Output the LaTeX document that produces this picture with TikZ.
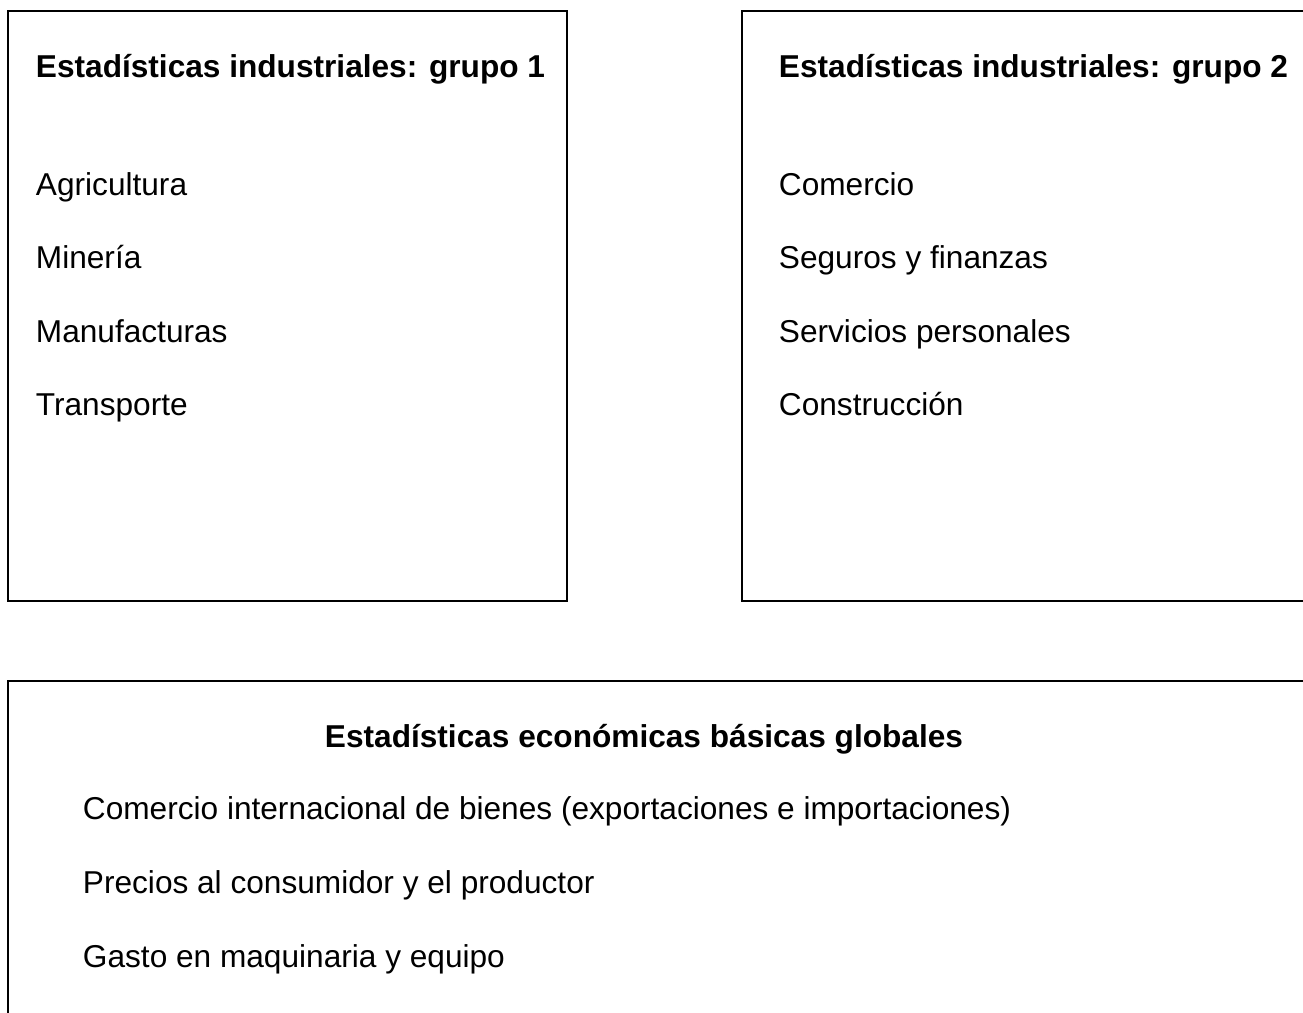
\documentclass[tikz,border=0pt]{standalone}
\usepackage{fontspec}
\setmainfont{Liberation Sans}

\begin{document}
\begin{tikzpicture}[x=0.02cm, y=-0.02cm, line width=1.1pt,
    every node/.style={inner sep=0pt, anchor=base west, font=\fontsize{18}{21}\selectfont},
    titulo/.style={font=\fontsize{18}{21}\selectfont\bfseries}]
    \useasboundingbox (0,0) rectangle (1303,1012);
    \clip (0,0) rectangle (1303,1012);

    \draw (8,11) rectangle (567,601);
    \draw (742,11) rectangle (1320,601);
    \draw (8,681) rectangle (1320,1030);

    \node[titulo] (G1) at (35,77) {Estadísticas industriales: grupo 1};
    \node (A) at (35,195) {Agricultura};
    \node (M) at (35,268) {Minería};
    \node (F) at (35,342) {Manufacturas};
    \node (T) at (35,415) {Transporte};

    \node[titulo] (G2) at (778,77) {Estadísticas industriales: grupo 2};
    \node (C) at (778,195) {Comercio};
    \node (S) at (778,268) {Seguros y finanzas};
    \node (P) at (778,342) {Servicios personales};
    \node (K) at (778,415) {Construcción};

    \node[titulo, anchor=base] (E) at (644,747) {Estadísticas económicas básicas globales};
    \node (CI) at (82,819) {Comercio internacional de bienes (exportaciones e importaciones)};
    \node (PR) at (82,893) {Precios al consumidor y el productor};
    \node (GM) at (82,967) {Gasto en maquinaria y equipo};
  \end{tikzpicture}
\end{document}
